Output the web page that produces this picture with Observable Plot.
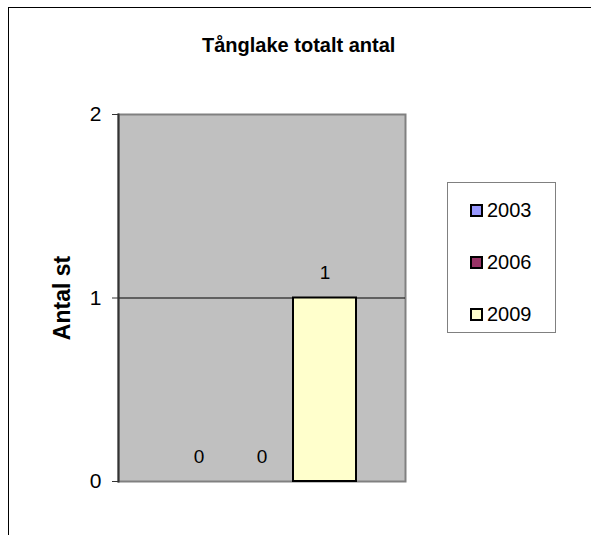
<!DOCTYPE html>
<html>
<head>
<meta charset="utf-8">
<script src="https://cdn.jsdelivr.net/npm/d3@7"></script>
<script src="https://cdn.jsdelivr.net/npm/@observablehq/plot@0.6"></script>
<style>
  body { margin: 0; background: #fff; }
  #wrap { position: relative; width: 591px; height: 535px; overflow: hidden; background: #fff;
          font-family: "Liberation Sans", Arial, sans-serif; color: #000; }
  #border { position: absolute; left: 8px; top: 7px; width: 700px; height: 700px;
            border-top: 1px solid #000; border-left: 1px solid #000; }
  #title { position: absolute; left: 202px; top: 34px; font-weight: bold; font-size: 20px; line-height: 23px; white-space: nowrap; }
  #ylabel { position: absolute; left: 62px; top: 298px; transform: translate(-50%, -50%) rotate(-90deg);
            font-weight: bold; font-size: 23px; white-space: nowrap; }
  #chart { position: absolute; left: 0; top: 0; }
  #legend { position: absolute; left: 447px; top: 182px; width: 107px; height: 149px;
            border: 1px solid #808080; background: #fff; }
  .item { position: absolute; left: 22px; height: 24px; display: flex; align-items: center; font-size: 20px; }
  .sw { width: 9px; height: 9px; border: 2px solid #000; margin-right: 4px; }
</style>
</head>
<body>
<div id="wrap">
  <div id="border"></div>
  <div id="chart"></div>
  <div id="title"></div>
  <div id="ylabel"></div>
  <div id="legend"></div>
</div>
<script>
const titleText = "Tånglake totalt antal";
const yLabel = "Antal st";
const years = ["2003", "2006", "2009"];
const values = [0, 0, 1];
const yTicks = [0, 1, 2];

const data = years.map((y, i) => ({ year: y, value: values[i] }));

document.getElementById("title").textContent = titleText;
document.getElementById("ylabel").textContent = yLabel;

const chart = Plot.plot({
  width: 591,
  height: 535,
  marginLeft: 118,
  marginTop: 114,
  marginRight: 186,
  marginBottom: 54,
  style: { fontFamily: '"Liberation Sans", Arial, sans-serif', background: "transparent", color: "#000" },
  x: { type: "band", domain: years, paddingInner: 0, paddingOuter: 0.75, axis: null },
  y: { domain: [0, 2], axis: null },
  color: { domain: years, range: ["#9999FF", "#993366", "#FFFFCC"] },
  marks: [
    Plot.frame({ fill: "#C0C0C0", stroke: "#808080", strokeWidth: 2 }),
    Plot.ruleY([1], { stroke: "#000", strokeWidth: 1 }),
    Plot.barY(data.filter(d => d.value > 0), { x: "year", y: "value", fill: "year", stroke: "#000", strokeWidth: 2 }),
    Plot.frame({ anchor: "left", stroke: "#333", strokeWidth: 2 }),
    Plot.axisY({ ticks: yTicks, tickSize: 6, tickPadding: 11, fontSize: 21, stroke: "#333", fill: "#000", label: null, tickFormat: d => String(d) }),
    Plot.text(data, { x: "year", y: "value", text: d => String(d.value), dy: -25, fontSize: 19, fill: "#000" })
  ]
});
document.getElementById("chart").appendChild(chart);

const color = chart.scale("color");
const legend = document.getElementById("legend");
const itemTops = [15, 67, 119];
color.domain.forEach((k, i) => {
  const item = document.createElement("div");
  item.className = "item";
  item.style.top = itemTops[i] + "px";
  const sw = document.createElement("div");
  sw.className = "sw";
  sw.style.background = color.range[i];
  const lab = document.createElement("span");
  lab.textContent = k;
  item.appendChild(sw);
  item.appendChild(lab);
  legend.appendChild(item);
});
</script>
</body>
</html>
